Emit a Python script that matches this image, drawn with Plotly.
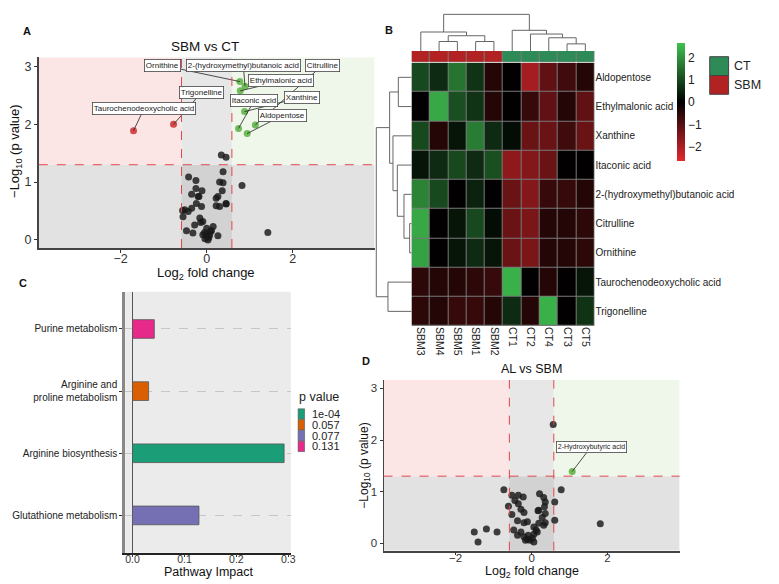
import plotly.graph_objects as go

FONT = "Liberation Sans, Arial, sans-serif"
# the page body keeps an 8px margin, so the figure is drawn 8px smaller and
# every position below is given in window pixels
OFF = 8
W, H = 779 - OFF, 584 - OFF

# ---------------- data ----------------
# panel A : SBM vs CT volcano
a_up_names = ["Ornithine", "2-(hydroxymethyl)butanoic acid", "Ethylmalonic acid", "Xanthine",
              "Itaconic acid", "Citrulline", "Aldopentose"]
a_up_x = [0.77, 0.89, 0.78, 0.88, 0.74, 1.13, 0.94]
a_up_y = [2.74, 2.66, 2.58, 2.22, 1.93, 1.99, 1.84]
a_down_names = ["Taurochenodeoxycholic acid", "Trigonelline"]
a_down_x = [-1.70, -0.77]
a_down_y = [1.89, 2.00]
a_ns_x = [0.34, 0.45, 0.38, -0.42, -0.25, 0.30, 0.38, 0.82, -0.25, -0.11, 0.36, -0.20, 0.22, -0.24, 0.22,
          0.45, -0.12, -0.35, 0.30, -0.51, -0.43, -0.55, -0.16, -0.09, -0.28, -0.47, -0.32, 0.00, 0.15, -0.05,
          0.00, 0.07, 0.03, -0.09, 0.26, 1.42, 0.11, -0.56, -0.35, -0.18, 0.26, 0.45, -0.02, 0.05, 0.09,
          -0.04, -0.14]
a_ns_y = [1.47, 1.43, 1.18, 1.09, 1.03, 1.00, 0.99, 0.94, 0.89, 0.85, 0.85, 0.75, 0.72, 0.63, 0.59,
          0.62, 0.58, 0.55, 0.58, 0.52, 0.49, 0.40, 0.38, 0.32, 0.26, 0.16, 0.12, 0.20, 0.23, 0.13,
          0.06, 0.09, 0.00, 0.09, 0.07, 0.13, 0.16, 0.51, 0.79, 0.75, 0.75, 0.63, 0.10, 0.04, 0.15,
          0.02, 0.30]

# panel D : AL vs SBM volcano
d_up_names = ["2-Hydroxybutyric acid"]
d_up_x = [1.07]
d_up_y = [1.39]
d_ns_x = [-0.73, 0.78, -0.52, -0.35, -0.22, 0.21, 0.32, -0.44, 0.36, 0.61, -0.61, -0.35, -0.28, 0.34, 0.17,
          0.36, -0.52, -0.20, 0.28, 0.61, -0.37, -0.20, -0.11, 0.36, 0.19, -0.47, -0.28, 0.12, 0.06, -0.09,
          -0.20, -0.04, 0.06, -0.11, -1.51, -1.19, -0.91, -1.41, 1.81, 0.57, 0.19, 0.32, 0.06, 0.15, -0.16,
          -0.37, 0.02]
d_ns_y = [1.04, 1.04, 0.93, 0.93, 0.90, 0.96, 0.89, 0.83, 0.80, 0.80, 0.72, 0.77, 0.66, 0.71, 0.63,
          0.58, 0.56, 0.60, 0.50, 0.45, 0.44, 0.40, 0.42, 0.40, 0.39, 0.26, 0.22, 0.26, 0.18, 0.16,
          0.13, 0.06, 0.03, 0.08, 0.22, 0.28, 0.22, 0.03, 0.38, 2.30, 0.64, 0.35, 0.32, 0.22, 0.06,
          0.16, 0.10]

# panel B : heatmap (z-scores)
samples = ["SBM3", "SBM4", "SBM5", "SBM1", "SBM2", "CT1", "CT2", "CT4", "CT3", "CT5"]
metabolites = ["Aldopentose", "Ethylmalonic acid", "Xanthine", "Itaconic acid",
               "2-(hydroxymethyl)butanoic acid", "Citrulline", "Ornithine",
               "Taurochenodeoxycholic acid", "Trigonelline"]
zscore = [
    [1.0, 0.6, 1.6, 0.7, -0.4, 0.0, -1.9, -1.1, -0.7, -0.4],
    [0.0, 2.3, 1.1, 0.7, -0.4, 0.0, -0.6, -1.1, -0.4, -1.1],
    [1.0, -0.4, 0.3, 1.7, 0.6, 0.2, -1.2, -1.2, -0.7, -1.2],
    [0.3, 0.6, 1.0, 0.6, 1.1, -1.6, -1.5, -1.2, 0.0, 0.0],
    [1.8, 1.0, 0.0, 0.5, 0.0, -1.2, -1.5, -0.6, -0.6, -0.4],
    [2.3, 0.0, 0.3, 1.0, 0.2, -1.2, -1.4, -0.4, -0.4, -0.5],
    [2.2, 0.0, 0.3, 0.6, 0.3, -1.2, -1.4, -0.4, -0.4, -0.5],
    [-0.5, -0.4, -0.4, -0.5, -0.6, 2.4, 0.0, -0.4, 0.0, 0.3],
    [-0.5, -0.4, -0.6, -0.6, -0.4, 0.6, -0.4, 2.4, 0.0, 0.7],
]
# dendrograms: (height, left, right)
col_tree = (108, (56, "SBM3", (45, (28, "SBM4", "SBM5"), (28, "SBM1", "SBM2"))),
            (61, "CT1", (50, "CT2", (39, "CT4", (21, "CT3", "CT5")))))
row_tree = (106, (66, (40, "Aldopentose", "Ethylmalonic acid"),
                  (56, "Xanthine", (43, "Itaconic acid",
                                    (23, "2-(hydroxymethyl)butanoic acid", (6, "Citrulline", "Ornithine"))))),
            (71, "Taurochenodeoxycholic acid", "Trigonelline"))

# panel C : pathway impact
pathways = ["Purine metabolism", "Arginine and<br>proline metabolism", "Arginine biosynthesis",
            "Glutathione metabolism"]
impact = [0.042, 0.031, 0.292, 0.128]
path_p = ["0.131", "0.057", "1e-04", "0.077"]
p_levels = ["1e-04", "0.057", "0.077", "0.131"]
p_colors = {"1e-04": "#1b9e77", "0.057": "#d95f02", "0.077": "#7570b3", "0.131": "#e7298a"}

FC_CUT = 0.585
P_CUT = 1.301
VX = [-3.9, 3.9]
VY = [-0.14, 3.16]


def px(x):
    return (x - OFF) / W


def py(y):
    return 1 - (y - OFF) / H


fig = go.Figure()
shapes = []
annots = []


def volcano(xn, yn, ns_x, ns_y, up, down, label_pos, lab_size):
    xa, ya = "x" + xn, "y" + yn
    # background regions
    regions = [
        (VX[0], VX[1], VY[0], P_CUT, "#e2e2e2"),
        (-FC_CUT, FC_CUT, VY[0], P_CUT, "#d2d2d2"),
        (VX[0], -FC_CUT, P_CUT, VY[1], "#fce5e5"),
        (-FC_CUT, FC_CUT, P_CUT, VY[1], "#e7e7e7"),
        (FC_CUT, VX[1], P_CUT, VY[1], "#eff7ea"),
    ]
    for x0, x1, y0, y1, c in regions:
        shapes.append(dict(type="rect", xref=xa, yref=ya, x0=x0, x1=x1, y0=y0, y1=y1,
                           fillcolor=c, line_width=0, layer="below"))
    for v in (-FC_CUT, FC_CUT):
        shapes.append(dict(type="line", xref=xa, yref=ya + " domain", x0=v, x1=v, y0=0, y1=1,
                           line=dict(color="#e0474c", width=1, dash="dash")))
    shapes.append(dict(type="line", xref=xa + " domain", yref=ya, x0=0, x1=1, y0=P_CUT, y1=P_CUT,
                       line=dict(color="#e0474c", width=1, dash="dash")))

    fig.add_trace(go.Scatter(x=ns_x, y=ns_y, mode="markers", xaxis=xa, yaxis=ya,
                             marker=dict(size=7, color="rgba(25,25,25,0.82)"), showlegend=False))
    groups = [(up, "rgba(100,180,75,0.9)"), (down, "rgba(210,55,55,0.9)")]
    seg_x, seg_y = [], []
    for (names, xs, ys), col in groups:
        fig.add_trace(go.Scatter(x=xs, y=ys, mode="markers", xaxis=xa, yaxis=ya,
                                 marker=dict(size=7, color=col), showlegend=False))
        for n, x, y in zip(names, xs, ys):
            lx, ly = label_pos[n]
            seg_x += [lx, x, None]
            seg_y += [ly, y, None]
            annots.append(dict(x=lx, y=ly, xref=xa, yref=ya, text=n, showarrow=False,
                               xanchor="center", yanchor="middle",
                               font=dict(size=lab_size, color="#222"), bgcolor="white",
                               bordercolor="#444", borderwidth=0.8, borderpad=1))
    fig.add_trace(go.Scatter(x=seg_x, y=seg_y, mode="lines", xaxis=xa, yaxis=ya,
                             line=dict(color="#222", width=0.8), showlegend=False, hoverinfo="skip"))


label_pos_a = {
    "Ornithine": (-1.02, 3.02), "2-(hydroxymethyl)butanoic acid": (0.85, 3.02),
    "Citrulline": (2.69, 3.02), "Ethylmalonic acid": (1.73, 2.75), "Trigonelline": (-0.12, 2.55),
    "Itaconic acid": (1.11, 2.42), "Xanthine": (2.21, 2.47),
    "Taurochenodeoxycholic acid": (-1.45, 2.28), "Aldopentose": (1.75, 2.15),
}
label_pos_d = {"2-Hydroxybutyric acid": (1.57, 1.87)}

volcano("", "", a_ns_x, a_ns_y, (a_up_names, a_up_x, a_up_y), (a_down_names, a_down_x, a_down_y),
        label_pos_a, 8)
volcano("7", "7", d_ns_x, d_ns_y, (d_up_names, d_up_x, d_up_y), ([], [], []), label_pos_d, 7)

# ---------------- heatmap ----------------
fig.add_trace(go.Heatmap(z=zscore, x=list(range(len(samples))), y=list(range(len(metabolites))),
                         xaxis="x2", yaxis="y2", zmin=-2.6, zmax=2.65, xgap=1, ygap=1,
                         colorscale=[[0, "#e3282d"], [0.5, "#000000"], [1, "#3fc250"]],
                         colorbar=dict(x=px(681.7), xanchor="left", y=py(101.7), yanchor="middle",
                                       xpad=0, ypad=0,
                                       len=118, lenmode="pixels", thickness=8, thicknessmode="pixels",
                                       tickvals=[-2, -1, 0, 1, 2], ticks="", outlinewidth=0,
                                       tickfont=dict(size=12, color="#222"))))
groups = [0 if s.startswith("SBM") else 1 for s in samples]
fig.add_trace(go.Heatmap(z=[groups], x=list(range(len(samples))), xaxis="x3", yaxis="y3",
                         zmin=0, zmax=1, xgap=1, showscale=False,
                         colorscale=[[0, "#b22222"], [0.5, "#b22222"], [0.5, "#2e8b57"], [1, "#2e8b57"]]))
for xr, yr in (("x2", "y2"), ("x3", "y3")):
    shapes.append(dict(type="rect", xref=xr + " domain", yref=yr + " domain", x0=0, x1=1, y0=0, y1=1,
                       fillcolor="#7a7a7a", line_width=0, layer="below"))


def dendro(node, order, xs, ys):
    if isinstance(node, str):
        return order.index(node), 0
    h, a, b = node
    pa, ha = dendro(a, order, xs, ys)
    pb, hb = dendro(b, order, xs, ys)
    xs += [pa, pa, pb, pb, None]
    ys += [ha, h, h, hb, None]
    return (pa + pb) / 2, h


cx, cy = [], []
dendro(col_tree, samples, cx, cy)
fig.add_trace(go.Scatter(x=cx, y=cy, mode="lines", xaxis="x4", yaxis="y4",
                         line=dict(color="#666", width=1), showlegend=False, hoverinfo="skip"))
rp, rh = [], []
dendro(row_tree, metabolites, rp, rh)
fig.add_trace(go.Scatter(x=rh, y=rp, mode="lines", xaxis="x5", yaxis="y5",
                         line=dict(color="#666", width=1), showlegend=False, hoverinfo="skip"))

# group legend for heatmap
for i, (g, c) in enumerate((("CT", "#2e8b57"), ("SBM", "#b22222"))):
    top = 56.7 + i * 18.8
    shapes.append(dict(type="rect", xref="paper", yref="paper", x0=px(714.3), x1=px(733.3),
                       y0=py(top + 18.8), y1=py(top), fillcolor=c, line=dict(color="#444", width=1)))
    annots.append(dict(x=px(737), y=py(top + 9.6), xref="paper", yref="paper", text=g,
                       showarrow=False, xanchor="left", yanchor="middle",
                       font=dict(size=12.5, color="#222")))

# ---------------- panel C ----------------
shapes.append(dict(type="rect", xref="x6 domain", yref="y6 domain", x0=0, x1=1, y0=0, y1=1,
                   fillcolor="#ebebeb", line_width=0, layer="below"))
for lev in p_levels:
    idx = [i for i, p in enumerate(path_p) if p == lev]
    fig.add_trace(go.Bar(x=[impact[i] for i in idx], y=[pathways[i] for i in idx], orientation="h",
                         xaxis="x6", yaxis="y6", width=0.3, name=lev, showlegend=False,
                         marker=dict(color=p_colors[lev], line=dict(color="#555", width=0.8))))
annots.append(dict(x=px(299), y=py(397), xref="paper", yref="paper", text="p value", showarrow=False,
                   xanchor="left", yanchor="middle", font=dict(size=12.5, color="#222")))
for i, lev in enumerate(p_levels):
    yc = 414 + i * 10.8
    shapes.append(dict(type="rect", xref="paper", yref="paper", x0=px(300), x1=px(306.5),
                       y0=py(yc + 5.2), y1=py(yc - 5.2), fillcolor=p_colors[lev],
                       line=dict(color="#555", width=0.6)))
    annots.append(dict(x=px(312), y=py(yc), xref="paper", yref="paper", text=lev, showarrow=False,
                       xanchor="left", yanchor="middle", font=dict(size=11, color="#222")))

# ---------------- text ----------------
texts = [
    ("<b>A</b>", 27.3, 30.7, 11, 0), ("<b>B</b>", 391.7, 30, 11, 0),
    ("<b>C</b>", 23, 282.7, 11, 0), ("<b>D</b>", 368, 361, 11, 0),
    ("SBM vs CT", 206.7, 46.7, 13.5, 0), ("AL vs SBM", 535, 369.3, 12.5, 0),
    ("Log<sub>2</sub> fold change", 207, 273, 13, 0), ("Log<sub>2</sub> fold change", 535, 572, 12.5, 0),
    ("−Log<sub>10</sub> (p value)", 16, 151, 13, -90), ("−Log<sub>10</sub> (p value)", 367, 466, 12, -90),
    ("Pathway Impact", 210, 572, 12.5, 0),
]
for t, x, y, s, ang in texts:
    annots.append(dict(x=px(x), y=py(y), xref="paper", yref="paper", text=t, showarrow=False,
                       xanchor="center", yanchor="middle",
                       textangle=ang, font=dict(size=s, color="#111")))

axis_base = dict(showgrid=False, zeroline=False, ticks="outside", ticklen=3, tickcolor="#333",
                 showline=True, linecolor="#444", tickfont=dict(color="#333"))
n_col = len(samples)
n_row = len(metabolites)
fig.update_layout(
    width=W, height=H, margin=dict(l=0, r=0, t=0, b=0),
    paper_bgcolor="white", plot_bgcolor="rgba(0,0,0,0)",
    font=dict(family=FONT, color="#222"), showlegend=False, barmode="overlay",
    xaxis=dict(axis_base, domain=[px(39), px(377)], range=VX, tickvals=[-2, 0, 2],
               tickfont=dict(size=12.5, color="#333"), linewidth=2, anchor="y", ticklabelstandoff=-5),
    yaxis=dict(axis_base, domain=[py(248), py(57.3)], range=VY, tickvals=[0, 1, 2, 3],
               tickfont=dict(size=12.5, color="#333"), linewidth=1.5, anchor="x"),
    xaxis7=dict(axis_base, domain=[px(386), px(684)], range=VX, tickvals=[-2, 0, 2],
                tickfont=dict(size=11.5, color="#333"), linewidth=1.5, anchor="y7", ticklabelstandoff=-7),
    yaxis7=dict(axis_base, domain=[py(550.7), py(380)], range=VY, tickvals=[0, 1, 2, 3],
                tickfont=dict(size=11.5, color="#333"), linewidth=1, anchor="x7"),
    xaxis2=dict(domain=[px(414.3), px(598.3)], range=[-0.5, n_col - 0.5], tickvals=list(range(n_col)),
                ticktext=samples, tickangle=90, showgrid=False, zeroline=False, ticks="",
                tickfont=dict(size=10.5, color="#222"), anchor="y2"),
    yaxis2=dict(domain=[py(326), py(62.7)], range=[n_row - 0.5, -0.5], tickvals=list(range(n_row)),
                ticktext=metabolites, side="right", showgrid=False, zeroline=False, ticks="",
                tickfont=dict(size=10, color="#222"), anchor="x2"),
    xaxis3=dict(domain=[px(414.3), px(598.3)], range=[-0.5, n_col - 0.5], visible=False, anchor="y3"),
    yaxis3=dict(domain=[py(61.7), py(51)], range=[-0.5, 0.5], visible=False, anchor="x3"),
    xaxis4=dict(domain=[px(414.3), px(598.3)], range=[-0.5, n_col - 0.5], visible=False, anchor="y4"),
    yaxis4=dict(domain=[py(51), py(12)], range=[0, 115], visible=False, anchor="x4"),
    xaxis5=dict(domain=[px(376), px(414.3)], range=[114, 0], visible=False, anchor="y5"),
    yaxis5=dict(domain=[py(326), py(62.7)], range=[n_row - 0.5, -0.5], visible=False, anchor="x5"),
    xaxis6=dict(domain=[px(126), px(292.7)], range=[-0.014, 0.305], tickvals=[0, 0.1, 0.2, 0.3],
                tickformat=".1f", showgrid=False, zeroline=True, zerolinecolor="#555", zerolinewidth=1,
                ticks="outside", ticklen=3, tickcolor="#333", showline=True, linecolor="#222",
                linewidth=1.5, tickfont=dict(size=10.5, color="#333"), anchor="y6",
                ticklabelstandoff=-7),
    yaxis6=dict(domain=[py(552.7), py(291.7)], type="category", categoryorder="array",
                categoryarray=pathways, range=[3.6, -0.6], showgrid=True, gridcolor="#c6c6c6",
                griddash="dash", gridwidth=1, ticks="outside", ticklen=3, tickcolor="#333",
                showline=True, linecolor="#888", linewidth=3, tickfont=dict(size=10, color="#222"),
                anchor="x6"),
    shapes=shapes, annotations=annots,
)

fig.write_html("out.html")
